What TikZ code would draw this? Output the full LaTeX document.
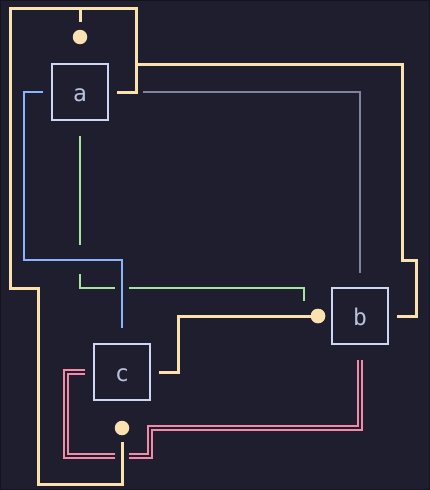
\documentclass[tikz,border=0pt]{standalone}
\usepackage{fontspec}
\newfontfamily\monofont{DejaVu Sans Mono}
\definecolor{bgc}{HTML}{1E1E2E}
\definecolor{edgec}{HTML}{14141F}
\definecolor{boxc}{HTML}{CDD6F4}
\definecolor{txtc}{HTML}{BAC2DE}
\definecolor{yel}{HTML}{F9E2AF}
\definecolor{blu}{HTML}{89B4FA}
\definecolor{grn}{HTML}{A6E3A1}
\definecolor{gry}{HTML}{7F849C}
\definecolor{pnk}{HTML}{F38BA8}
\begin{document}
\begin{tikzpicture}[x=1pt,y=-1pt,
  box/.style={draw=boxc,line width=2pt,minimum size=56pt,inner sep=0pt,text=txtc,text height=18pt,text depth=0pt,font=\monofont\fontsize{23}{23}\selectfont},
  dot/.style={circle,fill=yel,minimum size=14.5pt,inner sep=0pt},
  ywire/.style={draw=yel,line width=3pt},
  bwire/.style={draw=blu,line width=2pt},
  gwire/.style={draw=grn,line width=2pt},
  graywire/.style={draw=gry,line width=2pt},
  pwire/.style={draw=pnk,line width=2pt,double=bgc,double distance=2pt}]
\fill[bgc,draw=edgec,line width=1pt] (0.5,0.5) rectangle (429.5,489.5);
\useasboundingbox (0,0) rectangle (430,490);
% nodes
\node[box] (a) at (80,92) {a};
\node[box] (b) at (360,316) {b};
\node[box] (c) at (122,372) {c};
\node[dot] (d1) at (80,37) {};
\node[dot] (d2) at (318,316) {};
\node[dot] (d3) at (122,428) {};
% helper coordinates
\coordinate (t) at (80,8);
\coordinate (j) at (136,64);
\coordinate (g1) at (80,245);
\coordinate (g2) at (80,274);
\coordinate (g3) at (115,288);
\coordinate (g4) at (129,288);
\coordinate (g5) at (304,301);
\coordinate (p1) at (115,456);
\coordinate (p2) at (129,456);
\coordinate (gr) at (143,92);
% gray
\draw[graywire] (gr) -- (360,92) -- ([yshift=14pt]b.north);
% blue
\draw[bwire] ([xshift=-8pt]a.west) -- (24,92) -- (24,260) -- (122,260) -- ([yshift=15pt]c.north);
% green
\draw[gwire] ([yshift=-15pt]a.south) -- (g1);
\draw[gwire] (g2) -- (80,288) -- (g3);
\draw[gwire] (g4) -- (304,288) -- (g5);
% pink double
\draw[pwire] ([xshift=-8pt]c.west) -- (66,372) -- (66,456) -- (p1);
\draw[pwire] (p2) -- (150,456) -- (150,428) -- (360,428) -- ([yshift=-15pt]b.south);
% yellow
\draw[ywire] ([xshift=8pt]a.east) -- (136,92) -- (136,8) -- (10,8) -- (10,288) -- (38,288) -- (38,484) -- (122,484) -- ([yshift=-7pt]d3.south);
\draw[ywire] ([yshift=8pt]d1.north) -- (t);
\draw[ywire] ([xshift=8pt]b.east) -- (416,316) -- (416,260) -- (402,260) -- (402,64) -- (j);
\draw[ywire] ([xshift=8pt]c.east) -- (178,372) -- (178,316) -- (d2.center);
\node[dot] at (d2) {};
\end{tikzpicture}
\end{document}
